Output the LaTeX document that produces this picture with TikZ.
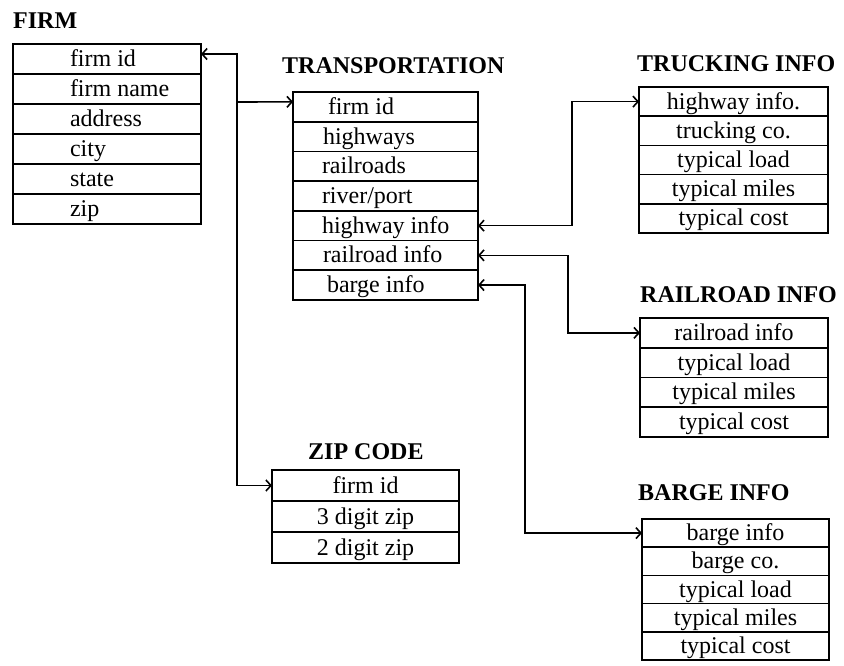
\documentclass[tikz,border=0pt]{standalone}
\usepackage{fontspec}
\setmainfont{Liberation Serif}
\usetikzlibrary{arrows.meta}
\newcommand\rowL[3]{\makebox[#1][l]{\hspace*{#2}#3}}
\tikzset{
  row/.style={draw, line width=1.7pt, inner sep=0pt, outer sep=0pt,
    text height=20pt, text depth=5pt, font=\fontsize{24}{26}\selectfont},
  ttl/.style={inner sep=0pt, anchor=west, text height=16.5pt, text depth=0pt,
    font=\bfseries\fontsize{24}{26}\selectfont},
  barb/.tip={Straight Barb[length=5pt,width=11pt]},
  link/.style={line width=1.6pt, barb-barb},
  link1/.style={line width=1.6pt, -barb}
}
\begin{document}
\begin{tikzpicture}[x=1pt,y=-1pt]
\useasboundingbox (0,0) rectangle (844,665);

% FIRM
\node[ttl] (firmT) at (13,20) {FIRM};
\foreach \t [count=\i] in {firm id, firm name, address, city, state, zip}
  \node[row, minimum width=188pt, minimum height=30pt] (f\i) at (107,{29+30*\i})
    {\rowL{188pt}{57pt}{\t}};

% TRANSPORTATION
\node[ttl] (transT) at (282,65) {TRANSPORTATION};
\foreach \t/\o [count=\i] in {firm id/35pt, highways/30pt, railroads/29pt,
    river\slash port/29pt, highway info/29pt, railroad info/30pt, barge info/34pt}
  \node[row, minimum width=185pt, minimum height=29.7pt] (t\i) at (385.5,{77.15+29.7*\i})
    {\rowL{185pt}{\o}{\t}};

% TRUCKING INFO
\node[ttl] (truckT) at (637,63) {TRUCKING INFO};
\foreach \t [count=\i] in {highway info., trucking co., typical load, typical miles, typical cost}
  \node[row, minimum width=189pt, minimum height=29.2pt] (k\i) at (733.5,{72.4+29.2*\i}) {\t};

% RAILROAD INFO
\node[ttl] (railT) at (640,294) {RAILROAD INFO};
\foreach \t [count=\i] in {railroad info, typical load, typical miles, typical cost}
  \node[row, minimum width=188pt, minimum height=29.75pt] (r\i) at (734,{303.125+29.75*\i}) {\t};

% BARGE INFO
\node[ttl] (bargeT) at (638,492) {BARGE INFO};
\foreach \t [count=\i] in {barge info, barge co., typical load, typical miles, typical cost}
  \node[row, minimum width=187pt, minimum height=28.2pt] (b\i) at (735.5,{504.9+28.2*\i}) {\t};

% ZIP CODE
\node[ttl] (zipT) at (308,451) {ZIP CODE};
\foreach \t [count=\i] in {firm id, 3 digit zip, 2 digit zip}
  \node[row, minimum width=187pt, minimum height=31pt] (z\i) at (365.5,{454.5+31*\i}) {\t};

% connectors
\draw[link] ([yshift=5pt]f1.east) -- ++(36,0) |- (z1.west);
\coordinate (j1) at (237,102);
\draw[link1] (j1) -- ([yshift=5pt]t1.west);
\draw[link] (t5.east) -- ++(94,0) |- (k1.west);
\draw[link] (t6.east) -- ++(90,0) |- (r1.west);
\draw[link] (t7.east) -- ++(47,0) |- (b1.west);
\end{tikzpicture}
\end{document}
